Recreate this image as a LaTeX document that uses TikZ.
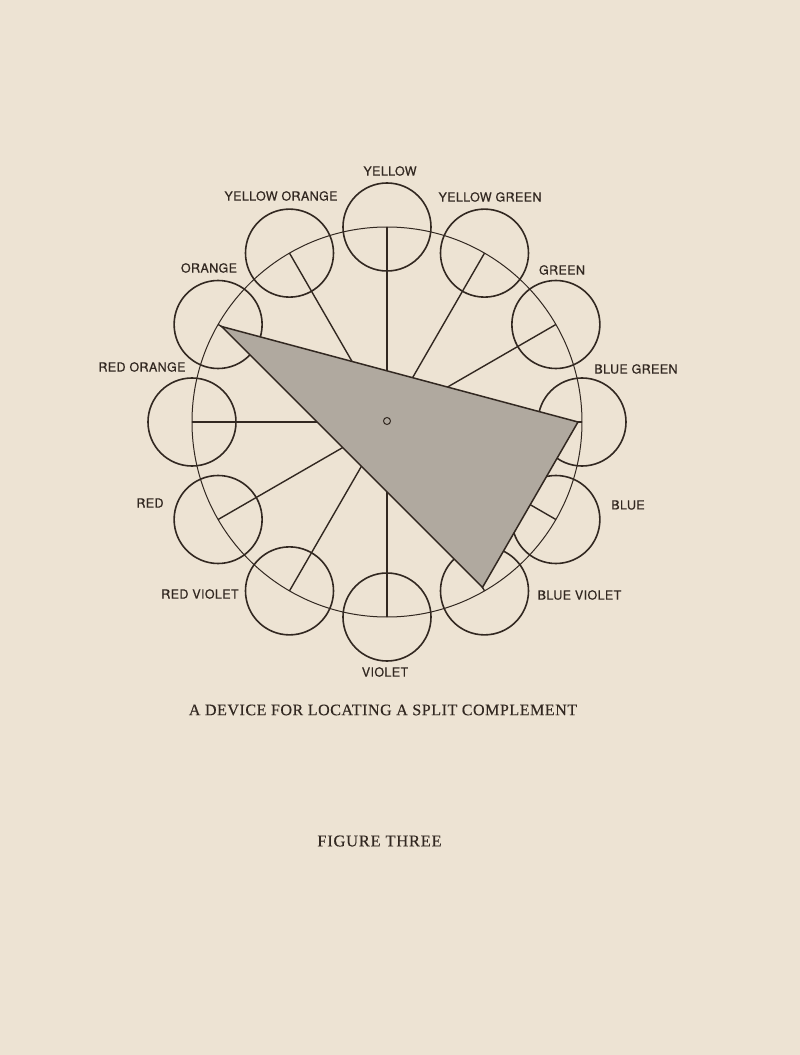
\documentclass[tikz,border=0pt]{standalone}
\usepackage{fontspec}
\setmainfont{Liberation Serif}
\newfontfamily\labelfont[LetterSpace=3,FakeBold=0.5]{TeX Gyre Heros}
\newfontfamily\capfont[LetterSpace=3.5,FakeBold=0.3]{Liberation Serif}
\newfontfamily\figfont[LetterSpace=4.5,FakeBold=0.3]{Liberation Serif}
\definecolor{paper}{RGB}{237,227,211}
\definecolor{ink}{RGB}{50,40,33}
\definecolor{shade}{RGB}{176,169,159}

\begin{document}
\begin{tikzpicture}[x=1pt,y=1pt]
\tikzstyle{every node}=[text=ink];
\tikzstyle{hue}=[draw=ink,line width=1.6pt,shape=circle,minimum size=88pt,inner sep=0pt];
\tikzstyle{huelabel}=[font=\labelfont\fontsize{12.5}{14}\selectfont,inner sep=0pt];
\tikzstyle{spoke}=[draw=ink,line width=1.4pt];
\fill[paper] (-387,-633) rectangle (413,422);
\useasboundingbox (-387,-633) rectangle (413,422);
% the wheel
\coordinate (hub) at (0,0);
\draw[ink,line width=1pt] (hub) circle (195pt);
\node[hue] (yellow) at (90:195) {};
\node[hue] (yelloworange) at (120:195) {};
\node[hue] (orange) at (150:195) {};
\node[hue] (redorange) at (180:195) {};
\node[hue] (red) at (210:195) {};
\node[hue] (redviolet) at (240:195) {};
\node[hue] (violet) at (270:195) {};
\node[hue] (blueviolet) at (300:195) {};
\node[hue] (blue) at (330:195) {};
\node[hue] (bluegreen) at (0:195) {};
\node[hue] (green) at (30:195) {};
\node[hue] (yellowgreen) at (60:195) {};
\draw[spoke] (hub) -- (yellow.center);
\draw[spoke] (hub) -- (yelloworange.center);
\draw[spoke] (hub) -- (orange.center);
\draw[spoke] (hub) -- (redorange.center);
\draw[spoke] (hub) -- (red.center);
\draw[spoke] (hub) -- (redviolet.center);
\draw[spoke] (hub) -- (violet.center);
\draw[spoke] (hub) -- (blueviolet.center);
\draw[spoke] (hub) -- (blue.center);
\draw[spoke] (hub) -- (bluegreen.center);
\draw[spoke] (hub) -- (green.center);
\draw[spoke] (hub) -- (yellowgreen.center);
% the pointer
\coordinate (tipa) at (150:191);
\coordinate (tipb) at (0:191);
\coordinate (tipc) at (300:191);
\filldraw[fill=shade,draw=ink,line width=1.5pt,line join=miter] (tipa) -- (tipb) -- (tipc) -- cycle;
\node[draw=ink,line width=1pt,shape=circle,minimum size=7pt,inner sep=0pt] (pivot) at (0,1) {};
% labels
\node[huelabel] (yellowname) at (3,251) {YELLOW};
\node[huelabel] (yelloworangename) at (-106,226) {YELLOW ORANGE};
\node[huelabel] (yellowgreenname) at (103,225) {YELLOW GREEN};
\node[huelabel] (greenname) at (175,152) {GREEN};
\node[huelabel] (bluegreenname) at (249,53) {BLUE GREEN};
\node[huelabel] (bluename) at (241,-83) {BLUE};
\node[huelabel] (bluevioletname) at (192.5,-173) {BLUE VIOLET};
\node[huelabel] (violetname) at (-2,-250) {VIOLET};
\node[huelabel] (redvioletname) at (-187,-172) {RED VIOLET};
\node[huelabel] (redname) at (-237,-81) {RED};
\node[huelabel] (redorangename) at (-245,55) {RED ORANGE};
\node[huelabel] (orangename) at (-178,154) {ORANGE};
% captions
\node[font=\capfont\fontsize{16}{18}\selectfont,inner sep=0pt] (caption) at (-4,-288) {A DEVICE FOR LOCATING A SPLIT COMPLEMENT};
\node[font=\figfont\fontsize{16.5}{18}\selectfont,inner sep=0pt] (figname) at (-7.5,-419) {FIGURE THREE};
\end{tikzpicture}
\end{document}
